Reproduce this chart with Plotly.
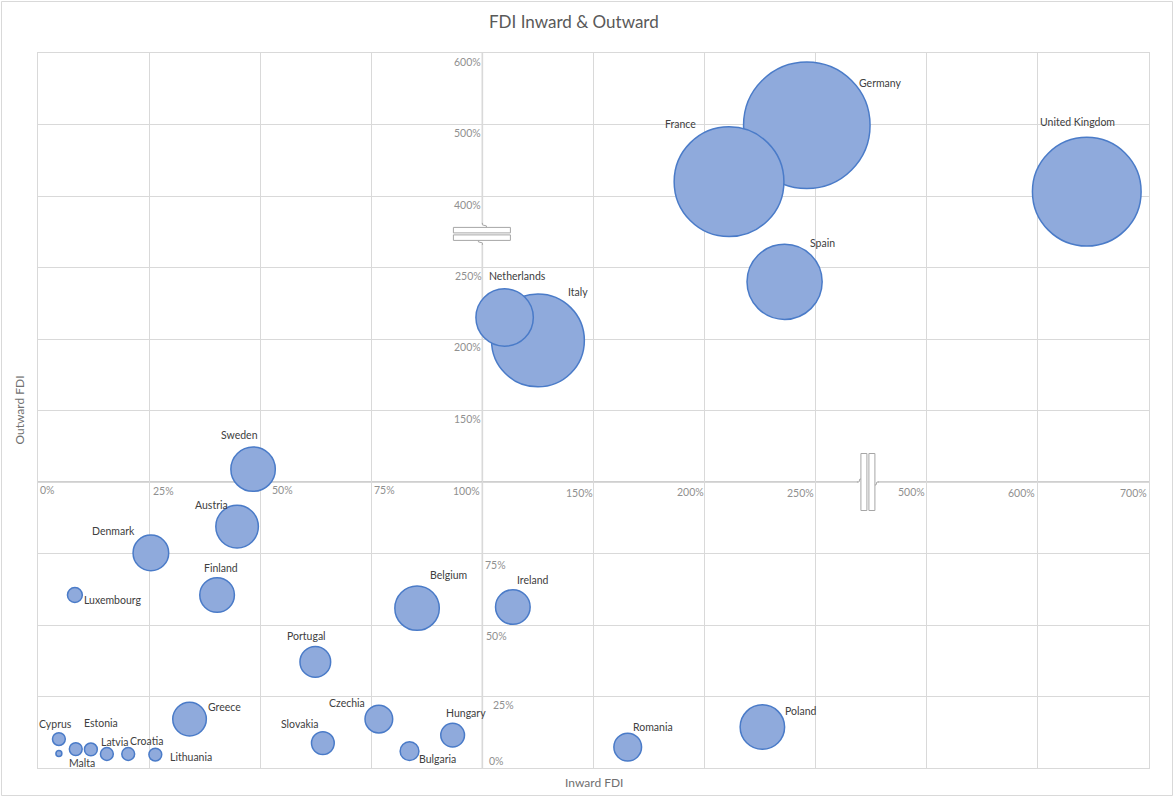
import numpy as np
import plotly.graph_objects as go

# ---------------------------------------------------------------- data
countries = [
    "Germany", "France", "United Kingdom", "Italy", "Spain", "Netherlands",
    "Poland", "Sweden", "Belgium", "Austria", "Denmark", "Ireland", "Finland",
    "Greece", "Portugal", "Czechia", "Romania", "Hungary", "Slovakia",
    "Bulgaria", "Luxembourg", "Croatia", "Lithuania", "Slovenia", "Cyprus",
    "Latvia", "Estonia", "Malta",
]
inward_fdi = [   # %
    246, 211, 644, 125, 236, 110,
    226, 48.4, 85.3, 44.8, 25.4, 113.7, 40.3,
    34.1, 62.4, 76.7, 165.4, 93.3, 64.1,
    83.6, 8.3, 20.3, 26.4, 8.5, 4.7,
    15.5, 11.9, 4.7,
]
outward_fdi = [  # %
    499, 420, 406, 199, 240, 215,
    14.3, 109, 55.9, 84.4, 75.2, 56.3, 60.5,
    17.1, 37.1, 17.1, 7.3, 11.5, 8.7,
    5.9, 60.5, 4.9, 4.7, 6.6, 10.1,
    4.9, 6.5, 5.1,
]
bubble_size = [
    3400, 2560, 2510, 1830, 1200, 700,
    420, 420, 420, 385, 270, 255, 255,
    240, 200, 163, 163, 120, 110,
    75, 47, 35, 35, 35, 35,
    35, 35, 7.5,
]
label_text = [c if c != "Slovenia" else "" for c in countries]

x_tick_values = [0, 25, 50, 75, 100, 150, 200, 250, 500, 600, 700]
x_tick_labels = ["0%", "25%", "50%", "75%", "100%", "150%", "200%", "250%",
                 "500%", "600%", "700%"]
y_tick_values = [0, 25, 50, 75, 150, 200, 250, 400, 500, 600]
y_tick_labels = ["0%", "25%", "50%", "75%", "150%", "200%", "250%",
                 "400%", "500%", "600%"]

# ------------------------------------------------ broken-axis scales
X_SCALE_VALUES = [0, 100, 250, 500, 700]
X_SCALE_UNITS = [0, 4, 7, 8, 10]
Y_SCALE_VALUES = [0, 100, 250, 400, 600]
Y_SCALE_UNITS = [0, 4, 7, 8, 10]


def to_x(v):
    return np.interp(v, X_SCALE_VALUES, X_SCALE_UNITS)


def to_y(v):
    return np.interp(v, Y_SCALE_VALUES, Y_SCALE_UNITS)


# ------------------------------------------------------------- styles
W, H = 1174, 797
M_L, M_R, M_T, M_B = 38, 25, 53, 29
PLOT_W = W - M_L - M_R
PLOT_H = H - M_T - M_B
FONT = "Lato"
LABEL_COLOR = "#404040"
TICK_COLOR = "#909090"
GRID_COLOR = "#d9d9d9"
AXIS_COLOR = "#bfbfbf"

# text offset (dx, dy) in screen pixels from each bubble centre
label_offsets = {
    "Germany": (74, -42), "France": (-49, -58), "United Kingdom": (-9, -70),
    "Italy": (40, -48), "Spain": (38, -39), "Netherlands": (13, -42),
    "Poland": (39, -16), "Sweden": (-14, -34), "Belgium": (31, -33),
    "Austria": (-26, -22), "Denmark": (-37, -22), "Ireland": (20, -27),
    "Finland": (4, -27), "Greece": (35, -12), "Portugal": (-9, -26),
    "Czechia": (-32, -16), "Romania": (25, -20), "Hungary": (13, -22),
    "Slovakia": (-23, -19), "Bulgaria": (28, 8), "Luxembourg": (38, 5),
    "Croatia": (18, -13), "Lithuania": (36, 2), "Slovenia": (0, 0),
    "Cyprus": (-3, -15), "Latvia": (8, -12), "Estonia": (10, -26),
    "Malta": (23.5, 10),
}
x_tick_offsets = [(9, 8), (14, 9), (22, 8), (13, 8), (-16, 8.7), (-14.5, 10.7),
                  (-14.5, 10), (-15.5, 11), (-15, 9.7), (-16, 11), (-16, 11)]
y_tick_offsets = [(13.6, -7.3), (20.6, 8.5), (13.6, 11), (12.6, 11.5),
                  (-15, 8.5), (-15, 8), (-14, 8.5), (-15, 9), (-15, 8.5), (-15, 9)]

MAX_DIAMETER = 126.5
sizeref = 2.0 * max(bubble_size) / MAX_DIAMETER ** 2

fig = go.Figure()
fig.add_trace(go.Scatter(
    x=to_x(inward_fdi),
    y=to_y(outward_fdi),
    mode="markers",
    text=countries,
    hovertemplate="%{text}<extra></extra>",
    marker=dict(
        size=bubble_size,
        sizemode="area",
        sizeref=sizeref,
        color="#8faadc",
        opacity=1,
        line=dict(color="#4a7bc8", width=1.5),
    ),
    showlegend=False,
))


def text_note(**kw):
    base = dict(showarrow=False, xanchor="center", yanchor="middle")
    base.update(kw)
    return base


annotations = []
# data labels
for name, txt, xv, yv in zip(countries, label_text, inward_fdi, outward_fdi):
    if not txt:
        continue
    dx, dy = label_offsets[name]
    annotations.append(text_note(
        x=float(to_x(xv)), y=float(to_y(yv)), xref="x", yref="y",
        text=txt, xshift=dx, yshift=-dy,
        font=dict(family=FONT, size=10.5, color=LABEL_COLOR),
    ))

# tick labels on the broken axes (they sit on the crossing axis lines)
axis_y_unit = float(to_y(100))
axis_x_unit = float(to_x(100))
for val, txt, (dx, dy) in zip(x_tick_values, x_tick_labels, x_tick_offsets):
    annotations.append(text_note(
        x=float(to_x(val)), y=axis_y_unit, xref="x", yref="y",
        text=txt, xshift=dx, yshift=-dy,
        font=dict(family=FONT, size=10.5, color=TICK_COLOR),
    ))
for val, txt, (dx, dy) in zip(y_tick_values, y_tick_labels, y_tick_offsets):
    annotations.append(text_note(
        x=axis_x_unit, y=float(to_y(val)), xref="x", yref="y",
        text=txt, xshift=dx, yshift=-dy,
        font=dict(family=FONT, size=10.5, color=TICK_COLOR),
    ))

# chart title and axis titles
annotations.append(text_note(
    x=(573.5 - M_L) / PLOT_W, y=(H - M_B - 22) / PLOT_H, xref="paper", yref="paper",
    text="FDI Inward & Outward",
    font=dict(family=FONT, size=17, color="#595959"),
))
annotations.append(text_note(
    x=0.5, y=-(782 - (H - M_B)) / PLOT_H, xref="paper", yref="paper",
    text="Inward FDI",
    font=dict(family=FONT, size=12, color="#707070"),
))
annotations.append(text_note(
    x=(19 - M_L) / PLOT_W, y=0.5, xref="paper", yref="paper",
    text="Outward FDI", textangle=-90,
    font=dict(family=FONT, size=12, color="#707070"),
))

shapes = []
# axis lines crossing at 100% / 100%
shapes.append(dict(type="line", xref="x", yref="y", x0=axis_x_unit, x1=axis_x_unit,
                   y0=0, y1=10, layer="below", line=dict(color=AXIS_COLOR, width=1.4)))
shapes.append(dict(type="line", xref="x", yref="y", x0=0, x1=10,
                   y0=axis_y_unit, y1=axis_y_unit, layer="below",
                   line=dict(color=AXIS_COLOR, width=1.4)))


def px_rect(xa, ya, x0, x1, y0, y1, fill="white", line_color="#a6a6a6", lw=1):
    return dict(type="rect", xref="x", yref="y", xsizemode="pixel", ysizemode="pixel",
                xanchor=xa, yanchor=ya, x0=x0, x1=x1, y0=y0, y1=y1, layer="above",
                fillcolor=fill, line=dict(color=line_color, width=lw))


def px_path(xa, ya, path, line_color="#a6a6a6"):
    return dict(type="path", xref="x", yref="y", xsizemode="pixel", ysizemode="pixel",
                xanchor=xa, yanchor=ya, path=path, layer="above",
                line=dict(color=line_color, width=1))


# break on the vertical axis (between 250% and 400%)
bx, by = axis_x_unit, 7.47
shapes.append(px_rect(bx, by, -2, 2, -10, 10, line_color="white", lw=0))
shapes.append(px_rect(bx, by, -29, 28, 1, 6.5))
shapes.append(px_rect(bx, by, -29, 28, -6.5, -1))
shapes.append(px_path(bx, by, "M0,11 L0,9 L4,8 L4,6.5"))
shapes.append(px_path(bx, by, "M0,-11 L0,-9 L-4,-8 L-4,-6.5"))

# break on the horizontal axis (between 250% and 500%)
hx, hy = 7.47, axis_y_unit
shapes.append(px_rect(hx, hy, -10, 10, -2, 2, line_color="white", lw=0))
shapes.append(px_rect(hx, hy, -7, -1, -28.5, 28.5))
shapes.append(px_rect(hx, hy, 1, 7, -28.5, 28.5))
shapes.append(px_path(hx, hy, "M-11,0 L-9,0 L-8,3 L-7,3"))
shapes.append(px_path(hx, hy, "M11,0 L9,0 L8,-3 L7,-3"))

# chart area border
shapes.append(dict(
    type="rect", xref="paper", yref="paper",
    x0=(1.5 - M_L) / PLOT_W, x1=(W - 1.5 - M_L) / PLOT_W,
    y0=-(M_B - 1.5) / PLOT_H, y1=(H - M_B - 1.5) / PLOT_H,
    line=dict(color="#d9d9d9", width=1), layer="below",
))

grid_units = list(range(11))
fig.update_layout(
    width=W, height=H,
    margin=dict(l=M_L, r=M_R, t=M_T, b=M_B),
    paper_bgcolor="white", plot_bgcolor="white",
    font=dict(family=FONT),
    xaxis=dict(range=[0, 10], tickvals=grid_units, showticklabels=False, ticks="",
               showgrid=True, gridcolor=GRID_COLOR, gridwidth=1, zeroline=False,
               showline=True, linecolor=GRID_COLOR, linewidth=1, mirror=True,
               fixedrange=True),
    yaxis=dict(range=[0, 10], tickvals=grid_units, showticklabels=False, ticks="",
               showgrid=True, gridcolor=GRID_COLOR, gridwidth=1, zeroline=False,
               showline=True, linecolor=GRID_COLOR, linewidth=1, mirror=True,
               fixedrange=True),
    annotations=annotations,
    shapes=shapes,
    hovermode="closest",
)

fig.write_html("out.html")
